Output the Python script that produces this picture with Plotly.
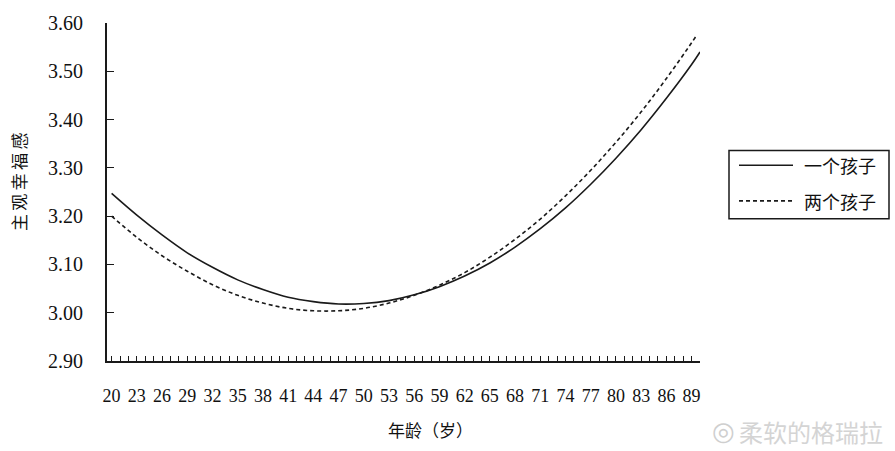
import plotly.graph_objects as go

# ---- data ----
ages = [20, 23, 26, 29, 32, 35, 38, 41, 44, 47, 50, 53, 56, 59, 62, 65, 68, 71, 74, 77, 80, 83, 86, 89, 90]
one_child = [3.247, 3.202, 3.161, 3.124, 3.094, 3.068, 3.048, 3.032, 3.023, 3.018, 3.019, 3.025,
             3.037, 3.054, 3.076, 3.103, 3.136, 3.174, 3.217, 3.266, 3.320, 3.379, 3.444, 3.514, 3.540]
ages_two = [20, 23, 26, 29, 32, 35, 38, 41, 44, 47, 50, 53, 56, 59, 62, 65, 68, 71, 74, 77, 80, 83, 86, 89, 89.5]
two_children = [3.200, 3.156, 3.118, 3.086, 3.058, 3.036, 3.020, 3.009, 3.004, 3.004, 3.009, 3.020,
                3.036, 3.057, 3.083, 3.115, 3.152, 3.194, 3.242, 3.295, 3.353, 3.416, 3.485, 3.559, 3.572]
series_names = ["一个孩子", "两个孩子"]
y_ticks = [2.90, 3.00, 3.10, 3.20, 3.30, 3.40, 3.50, 3.60]
x_label_ages = list(range(20, 90, 3))

W, H = 895, 451
L, R, T, B = 107, 700, 19, 361


def px(x):
    return (x - L) / (R - L)


def py(y):
    return (B - y) / (B - T)


fig = go.Figure()
fig.add_trace(go.Scatter(x=ages, y=one_child, mode="lines", name=series_names[0],
                         line=dict(color="#1a1a1a", width=1.6, shape="spline"), showlegend=False))
fig.add_trace(go.Scatter(x=ages_two, y=two_children, mode="lines", name=series_names[1],
                         line=dict(color="#1a1a1a", width=1.6, dash="4px,3px", shape="spline"),
                         showlegend=False))

serif = "Liberation Serif, Times New Roman, serif"
cjk = "Noto Sans CJK SC"

fig.update_layout(
    width=W, height=H,
    margin=dict(l=L, r=W - R, t=T, b=H - B, pad=0),
    paper_bgcolor="white", plot_bgcolor="white",
    xaxis=dict(
        range=[19.45, 90.0], showgrid=False, zeroline=False,
        showline=True, linecolor="#1a1a1a", linewidth=2,
        tickmode="array", tickvals=x_label_ages, ticktext=[str(a) for a in x_label_ages],
        ticks="inside", ticklen=5, tickwidth=1.3, tickcolor="#1a1a1a",
        minor=dict(dtick=1, tick0=20, ticks="inside", ticklen=5, tickwidth=1.3, tickcolor="#1a1a1a", showgrid=False),
        tickfont=dict(family=serif, size=18, color="#111"),
        ticklabelstandoff=17,
    ),
    yaxis=dict(
        range=[2.90, 3.60], showgrid=False, zeroline=False,
        showline=True, linecolor="#1a1a1a", linewidth=2,
        tickmode="array", tickvals=y_ticks, ticktext=[f"{v:.2f}" for v in y_ticks],
        ticks="inside", ticklen=7, tickwidth=1.3, tickcolor="#1a1a1a",
        tickfont=dict(family=serif, size=20, color="#111"),
        ticklabelstandoff=18,
    ),
)

annotations = [
    dict(text="主\u2009观\u2009幸\u2009福\u2009感", x=px(18), y=py(180), xref="paper", yref="paper", showarrow=False,
         textangle=-90, font=dict(family=cjk, size=17, color="#111"), xanchor="center", yanchor="middle"),
    dict(text="年龄（岁）", x=px(430), y=py(430), xref="paper", yref="paper", showarrow=False,
         font=dict(family=cjk, size=17, color="#111"), xanchor="center", yanchor="middle"),
    dict(text=series_names[0], x=px(802), y=py(163), xref="paper", yref="paper", showarrow=False,
         font=dict(family=cjk, size=18, color="#111"), xanchor="left", yanchor="middle"),
    dict(text=series_names[1], x=px(802), y=py(199), xref="paper", yref="paper", showarrow=False,
         font=dict(family=cjk, size=18, color="#111"), xanchor="left", yanchor="middle"),
    dict(text="柔软的格瑞拉", x=px(885), y=py(432), xref="paper", yref="paper", showarrow=False,
         font=dict(family=cjk, size=24, color="#d4d4d4"), xanchor="right", yanchor="middle"),
    dict(text="◎", x=px(723), y=py(432), xref="paper", yref="paper", showarrow=False,
         font=dict(family="DejaVu Sans", size=26, color="#cfcfcf"), xanchor="center", yanchor="middle"),
]
fig.update_layout(annotations=annotations)

shapes = [
    dict(type="rect", xref="paper", yref="paper", x0=px(729), x1=px(889), y0=py(148), y1=py(217),
         line=dict(color="#1a1a1a", width=1.5), fillcolor="rgba(0,0,0,0)"),
    dict(type="line", xref="paper", yref="paper", x0=px(739), x1=px(793), y0=py(163), y1=py(163),
         line=dict(color="#1a1a1a", width=1.6)),
    dict(type="line", xref="paper", yref="paper", x0=px(739), x1=px(793), y0=py(199), y1=py(199),
         line=dict(color="#1a1a1a", width=1.6, dash="4px,3px")),
]
fig.update_layout(shapes=shapes)

fig.write_html("out.html", config={"displayModeBar": False},
               post_script="document.body.style.margin='0';document.body.style.overflow='hidden';")
